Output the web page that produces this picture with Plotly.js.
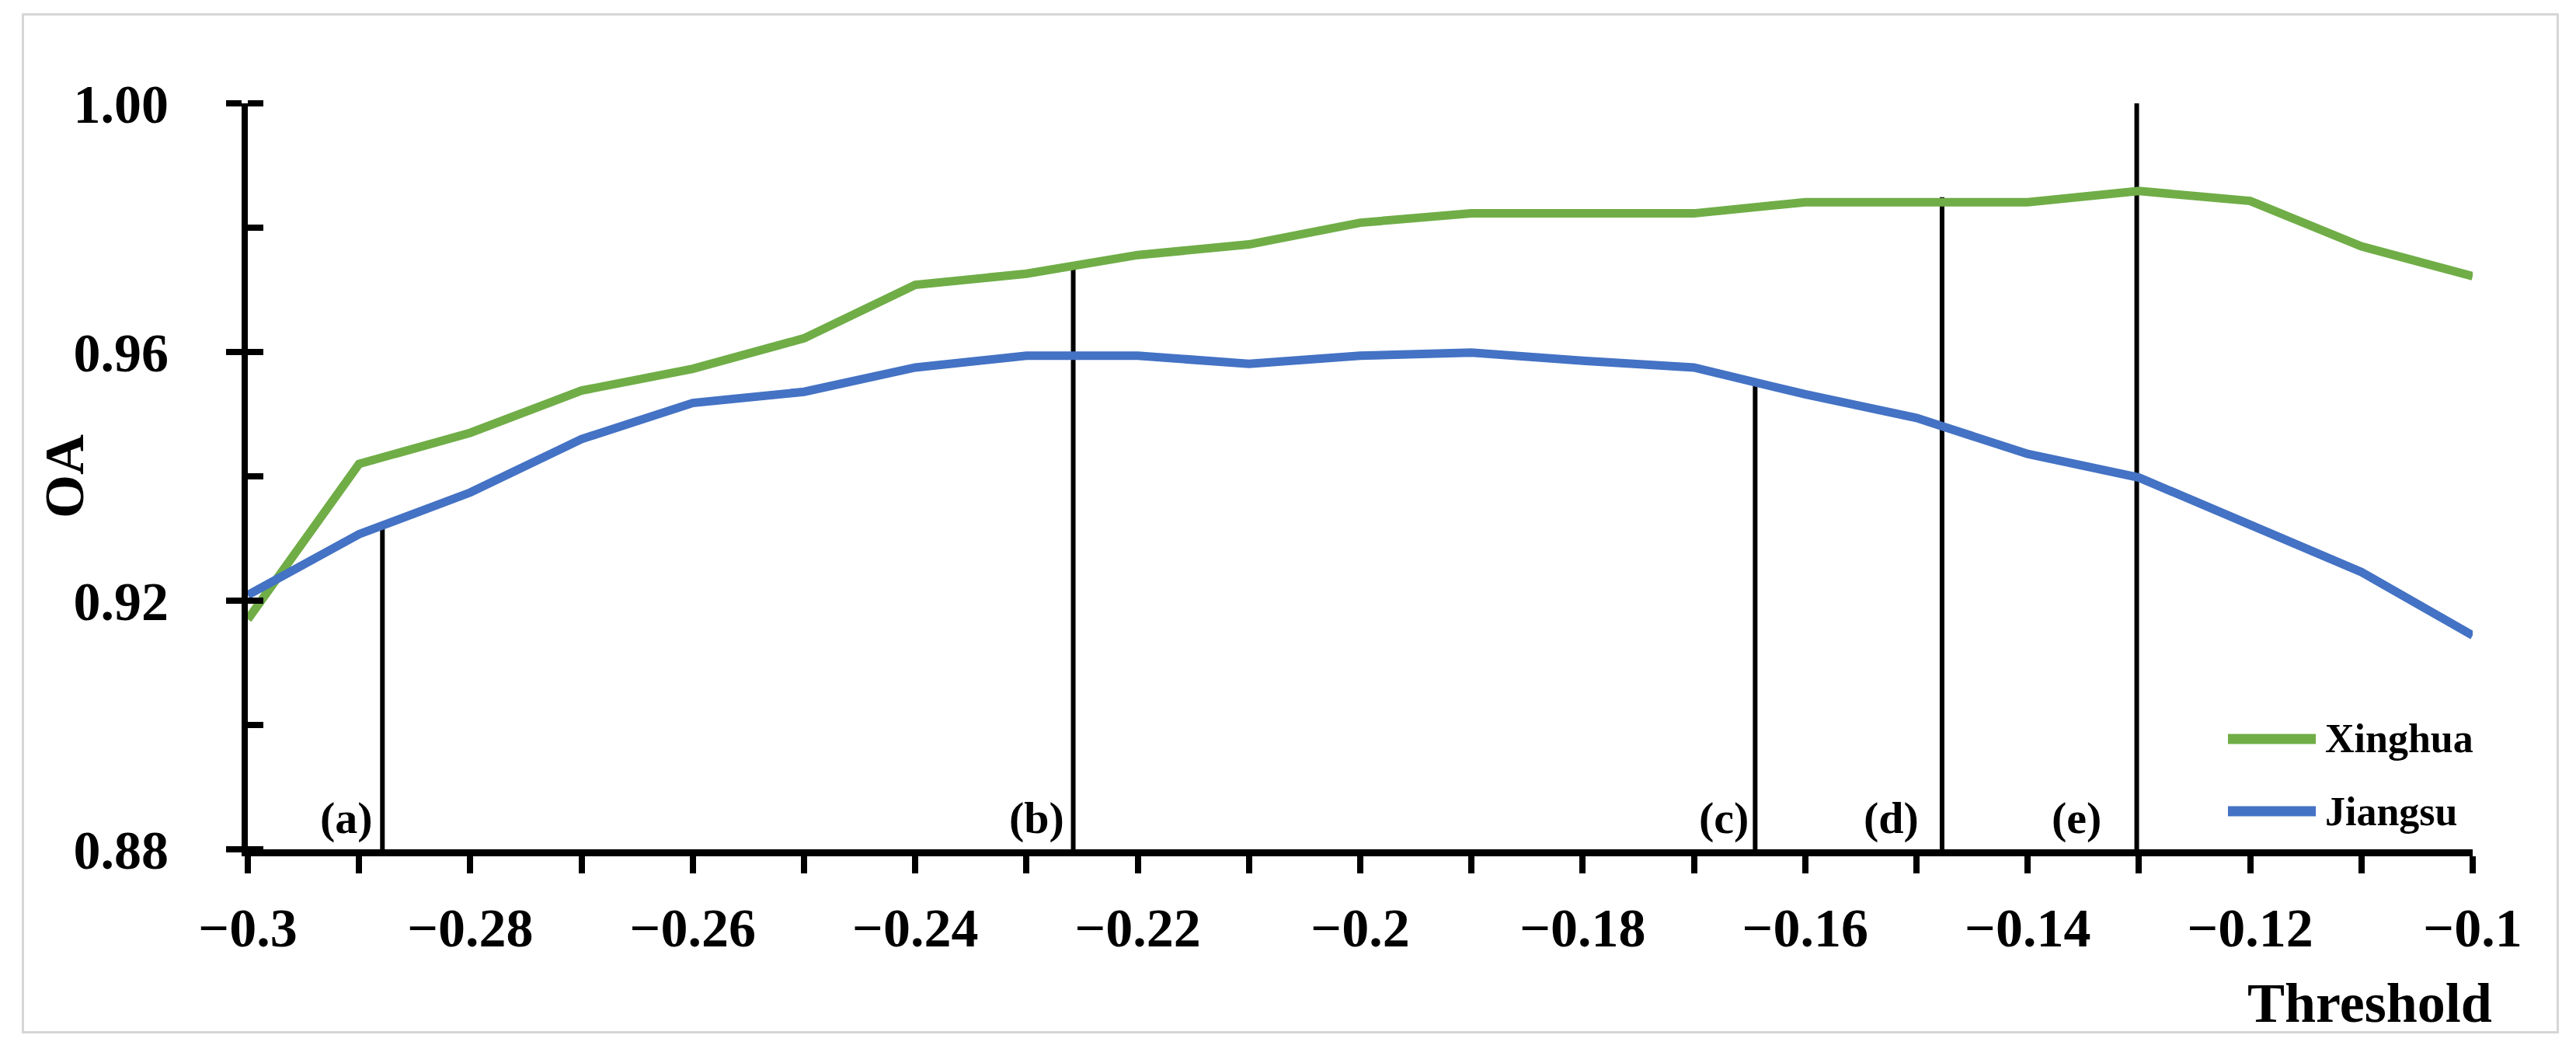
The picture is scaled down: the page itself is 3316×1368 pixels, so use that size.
<!DOCTYPE html>
<html>
<head>
<meta charset="utf-8">
<script src="https://cdn.plot.ly/plotly-3.0.1.min.js"></script>
<style>
  html, body { margin: 0; padding: 0; background: white; }
  #wrap { position: relative; width: 3316px; height: 1368px; }
  #chart { width: 3316px; height: 1368px; }
  /* thin grey frame round the whole figure */
  #frame { position: absolute; left: 28px; top: 17px; width: 3260px; height: 1307px;
           border: 3px solid #d6d6d6; pointer-events: none; }
</style>
</head>
<body>
<div id="wrap">
  <div id="chart"></div>
  <div id="frame"></div>
</div>
<script>
/* ── data ─────────────────────────────────────────────── */
const thresholds = [-0.30, -0.29, -0.28, -0.27, -0.26, -0.25, -0.24, -0.23, -0.22, -0.21, -0.20,
                    -0.19, -0.18, -0.17, -0.16, -0.15, -0.14, -0.13, -0.12, -0.11, -0.10];

const xinghuaOA = [0.9170, 0.9420, 0.9470, 0.9538, 0.9573, 0.9622, 0.9708, 0.9726, 0.9756, 0.9773, 0.9808,
                   0.9823, 0.9823, 0.9823, 0.9841, 0.9841, 0.9841, 0.9859, 0.9843, 0.9770, 0.9722];

const jiangsuOA = [0.9209, 0.9307, 0.9374, 0.9460, 0.9518, 0.9536, 0.9575, 0.9594, 0.9594, 0.9581, 0.9594,
                   0.9599, 0.9586, 0.9575, 0.9532, 0.9494, 0.9436, 0.9398, 0.9322, 0.9246, 0.9144];

const seriesNames = ['Xinghua', 'Jiangsu'];

// reference lines (a)–(e)
const markerLabels = ['(a)', '(b)', '(c)', '(d)', '(e)'];
const markerX      = [-0.2879, -0.2258, -0.1645, -0.1477, -0.1302];
const markerTop    = [0.9325, 0.9741, 0.9553, 0.9849, 1.0000];

const yTickVals = [0.88, 0.92, 0.96, 1.00];

/* ── style ────────────────────────────────────────────── */
const FONT   = 'Liberation Serif, Times New Roman, serif';
const GREEN  = '#70ad47';
const BLUE   = '#4472c4';
const LABEL_SHIFT = [-10, -10, -6, -28, -44];   // px nudges for the (a)–(e) labels
const Y_MIN = 0.88, Y_MAX = 1.00;

// vertical reference lines as one broken trace
const refX = [], refY = [];
markerX.forEach((x, i) => {
  refX.push(x, x, null);
  refY.push(Y_MIN, markerTop[i], null);
});

const traces = [
  { x: refX, y: refY, mode: 'lines', line: { color: 'black', width: 6 },
    showlegend: false, hoverinfo: 'skip' },
  { x: thresholds, y: xinghuaOA, name: seriesNames[0], mode: 'lines',
    line: { color: GREEN, width: 11 }, showlegend: false },
  { x: thresholds, y: jiangsuOA, name: seriesNames[1], mode: 'lines',
    line: { color: BLUE, width: 11 }, showlegend: false },
];

const tickFont = { family: FONT, size: 70, color: 'black', weight: 'bold' };

const annotations = markerLabels.map((t, i) => ({
  text: t, x: markerX[i], y: Y_MIN, xref: 'x', yref: 'y',
  xanchor: 'right', yanchor: 'bottom', xshift: LABEL_SHIFT[i], yshift: 6,
  showarrow: false, font: { family: FONT, size: 58, color: 'black', weight: 'bold' },
}));

/* axis titles */
annotations.push(
  { text: 'OA', xref: 'paper', yref: 'paper', x: -0.0824, y: 0.5, textangle: -90,
    xanchor: 'center', yanchor: 'middle', showarrow: false,
    font: { family: FONT, size: 72, color: 'black', weight: 'bold' } },
  { text: 'Threshold', xref: 'paper', yref: 'paper', x: 1.0094, y: -0.163,
    xanchor: 'right', yanchor: 'top', showarrow: false,
    font: { family: FONT, size: 72, color: 'black', weight: 'bold' } }
);

/* legend, drawn by hand so the line samples can be long */
const legendY = [0.148, 0.051];
const legendColors = [GREEN, BLUE];
const shapes = [];
seriesNames.forEach((name, i) => {
  shapes.push({ type: 'line', xref: 'paper', yref: 'paper',
    x0: 0.890, x1: 0.9295, y0: legendY[i], y1: legendY[i],
    line: { color: legendColors[i], width: 13 } });
  annotations.push({ text: name, xref: 'paper', yref: 'paper', x: 0.9330, y: legendY[i],
    xanchor: 'left', yanchor: 'middle', showarrow: false,
    font: { family: FONT, size: 52, color: 'black', weight: 'bold' } });
});

const layout = {
  width: 3316, height: 1368,
  paper_bgcolor: 'white', plot_bgcolor: 'white',
  margin: { l: 319, r: 133, t: 133, b: 275 },
  showlegend: false,
  xaxis: {
    range: [-0.3, -0.1], tick0: -0.3, dtick: 0.02,
    showgrid: false, zeroline: false,
    showline: true, linecolor: 'black', linewidth: 9,
    ticks: 'outside', ticklen: 22, tickwidth: 8, tickcolor: 'black',
    minor: { dtick: 0.01, ticks: 'outside', ticklen: 22, tickwidth: 8, tickcolor: 'black' },
    tickfont: tickFont, ticklabelstandoff: 10,
  },
  yaxis: {
    range: [Y_MIN, Y_MAX], tickvals: yTickVals, tickformat: '.2f',
    showgrid: false, zeroline: false,
    showline: true, linecolor: 'black', linewidth: 8,
    ticks: 'outside', ticklen: 20, tickwidth: 8, tickcolor: 'black',
    minor: { tick0: 0.88, dtick: 0.02, ticks: 'inside', ticklen: 20, tickwidth: 8, tickcolor: 'black' },
    tickfont: tickFont, ticklabelstandoff: 60,
  },
  // second y axis only to give the major ticks their inner half (cross ticks)
  yaxis2: {
    overlaying: 'y', side: 'left', anchor: 'x',
    range: [Y_MIN, Y_MAX], tickvals: yTickVals,
    showticklabels: false, showgrid: false, zeroline: false, showline: false,
    ticks: 'inside', ticklen: 20, tickwidth: 8, tickcolor: 'black',
  },
  annotations,
  shapes,
};

// dummy trace so yaxis2 is drawn
traces.push({ x: [thresholds[0]], y: [Y_MIN], yaxis: 'y2', mode: 'markers',
  marker: { opacity: 0 }, showlegend: false, hoverinfo: 'skip' });

Plotly.newPlot('chart', traces, layout, { displayModeBar: false, staticPlot: true });
</script>
</body>
</html>
